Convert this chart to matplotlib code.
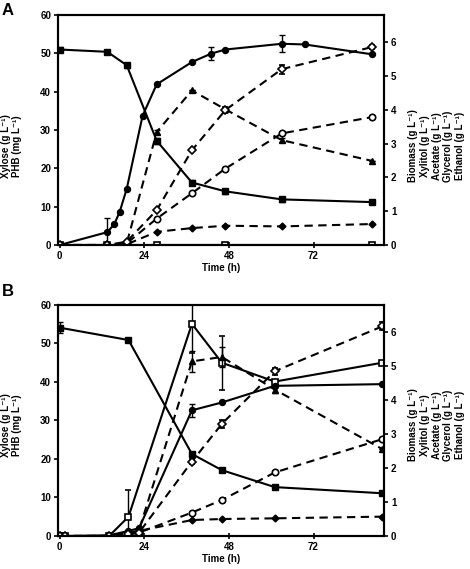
import matplotlib
matplotlib.use('Agg')
import matplotlib.pyplot as plt

plt.rcParams['font.family'] = ['Liberation Sans', 'DejaVu Sans']
plt.rcParams['font.weight'] = 'bold'
plt.rcParams['font.size'] = 7

# Panel A
a_t_xyl = [0, 13.5, 19, 27.5, 37.5, 47, 63, 88.5]
a_xylose = [51.0, 50.4, 46.9, 27.2, 16.3, 14.0, 11.9, 11.2]
a_xylose_err = [0.6, 0.5, 0.6, 0.8, 0.6, 0.7, 0.6, 0.6]
a_t_phb = [0, 13.5, 19, 27.5, 47, 88.5]
a_phb = [0, 0, 0, 0, 0, 0]
a_t_bio = [0, 13.5, 15.5, 17, 19, 23.5, 27.5, 37.5, 43, 47, 63, 69.5, 88.5]
a_biomass = [0, 0.38, 0.62, 0.98, 1.66, 3.82, 4.75, 5.41, 5.66, 5.78, 5.95, 5.93, 5.64]
a_biomass_err = [0, 0.42, 0, 0, 0, 0, 0, 0, 0.2, 0, 0.25, 0, 0]
a_t = [0, 13.5, 19, 27.5, 37.5, 47, 63, 88.5]
a_acetate = [0, 0, 0.05, 3.34, 4.57, 4.01, 3.10, 2.49]
a_acetate_err = [0, 0, 0, 0.05, 0, 0.08, 0.05, 0]
a_xylitol = [0, 0, 0.1, 1.03, 2.80, 3.99, 5.20, 5.85]
a_xylitol_err = [0, 0, 0, 0, 0, 0.08, 0.13, 0.05]
a_glycerol = [0, 0, 0.05, 0.78, 1.53, 2.26, 3.30, 3.78]
a_ethanol = [0, 0, 0.02, 0.39, 0.50, 0.57, 0.55, 0.62]

# Panel B
b_t_xyl = [0, 19.5, 37.5, 46, 61, 91.5]
b_xylose = [54.1, 50.9, 21.3, 17.1, 12.7, 11.1]
b_xylose_err = [1.5, 0.5, 0.6, 0.5, 0.5, 0.5]
b_t_phb = [0, 1.5, 14, 19.5, 37.5, 46, 61, 91.5]
b_phb = [0, 0, 0, 5.0, 55.1, 45.0, 40.1, 45.0]
b_phb_err = [0, 0, 0, 7, 7.5, 7, 0, 0]
b_t = [0, 1.5, 14, 19.5, 22.5, 37.5, 46, 61, 91.5]
b_biomass = [0, 0, 0.02, 0.15, 0.23, 3.70, 3.93, 4.42, 4.47]
b_biomass_err = [0, 0, 0, 0, 0, 0.2, 0, 0, 0]
b_acetate = [0, 0, 0, 0.05, 0.18, 5.14, 5.27, 4.31, 2.56]
b_acetate_err = [0, 0, 0, 0, 0, 0.3, 0.3, 0.1, 0]
b_xylitol = [0, 0, 0, 0.05, 0.1, 2.19, 3.30, 4.85, 6.17]
b_xylitol_err = [0, 0, 0, 0, 0, 0.08, 0.12, 0.1, 0.12]
b_glycerol = [0, 0, 0, 0.05, 0.1, 0.69, 1.06, 1.87, 2.85]
b_ethanol = [0, 0, 0, 0.1, 0.15, 0.47, 0.50, 0.52, 0.57]

left_label = 'Xylose (g L⁻¹)\nPHB (mg L⁻¹)'
right_label = 'Biomass (g L⁻¹)\nXylitol (g L⁻¹)\nAcetate (g L⁻¹)\nGlycerol (g L⁻¹)\nEthanol (g L⁻¹)'

dash = (0, (4, 2.6))
kw = dict(color='black', lw=1.5, ecolor='black', elinewidth=1, capsize=2.5, capthick=1)


def panel(ax, d, label_y):
    ax2 = ax.twinx()
    ax.errorbar(d['t_xyl'], d['xylose'], yerr=d['xylose_err'], marker='s', ms=4.6, mfc='black', mec='black', **kw)
    ax.errorbar(d['t_phb'], d['phb'], yerr=d['phb_err'], marker='s', ms=4.6, mfc='white', mec='black', mew=1.2, **kw)
    ax2.errorbar(d['t_bio'], d['biomass'], yerr=d['biomass_err'], marker='o', ms=4.3, mfc='black', mec='black', **kw)
    ax2.errorbar(d['t'], d['acetate'], yerr=d['acetate_err'], marker='^', ms=5, mfc='black', mec='black', ls=dash, **kw)
    ax2.errorbar(d['t'], d['xylitol'], yerr=d['xylitol_err'], marker='D', ms=4, mfc='white', mec='black', mew=1.2, ls=dash, **kw)
    ax2.plot(d['t'], d['glycerol'], marker='o', ms=4.6, mfc='white', mec='black', mew=1.2, ls=dash, color='black', lw=1.5)
    ax2.plot(d['t'], d['ethanol'], marker='D', ms=3.5, mfc='black', mec='black', ls=dash, color='black', lw=1.5)

    ax.set_xlim(-0.5, 92)
    ax.set_ylim(0, 60)
    ax2.set_ylim(0, 6.8)
    ax.set_xticks([0, 24, 48, 72])
    ax.set_yticks(range(0, 61, 10))
    ax2.set_yticks(range(0, 7))
    ax.tick_params(axis='y', direction='out', length=3, width=1.2, labelsize=7, pad=2)
    ax.tick_params(axis='x', direction='inout', length=4, width=1.2, labelsize=7, pad=2)
    ax2.tick_params(axis='y', direction='out', length=3, width=1.2, labelsize=7, pad=2)
    for s in list(ax.spines.values()) + list(ax2.spines.values()):
        s.set_linewidth(1.5)
    ax.set_xlabel('Time (h)', fontsize=7, fontweight='bold', labelpad=2)
    fig.text(0.024, label_y, left_label, rotation=90, ha='center', va='center',
             fontsize=7, fontweight='bold', linespacing=1.15)
    fig.text(0.929, label_y, right_label, rotation=90, ha='center', va='center',
             fontsize=7, fontweight='bold', linespacing=1.2)


fig = plt.figure(figsize=(4.7, 5.69), dpi=100)
axA = fig.add_axes([0.1234, 0.5694, 0.6936, 0.4042])
axB = fig.add_axes([0.1234, 0.058, 0.6936, 0.406])

dA = dict(t_xyl=a_t_xyl, xylose=a_xylose, xylose_err=a_xylose_err, t_phb=a_t_phb, phb=a_phb,
          phb_err=[0] * len(a_phb), t_bio=a_t_bio, biomass=a_biomass, biomass_err=a_biomass_err,
          t=a_t, acetate=a_acetate, acetate_err=a_acetate_err, xylitol=a_xylitol,
          xylitol_err=a_xylitol_err, glycerol=a_glycerol, ethanol=a_ethanol)
dB = dict(t_xyl=b_t_xyl, xylose=b_xylose, xylose_err=b_xylose_err, t_phb=b_t_phb, phb=b_phb,
          phb_err=b_phb_err, t_bio=b_t, biomass=b_biomass, biomass_err=b_biomass_err,
          t=b_t, acetate=b_acetate, acetate_err=b_acetate_err, xylitol=b_xylitol,
          xylitol_err=b_xylitol_err, glycerol=b_glycerol, ethanol=b_ethanol)

panel(axA, dA, 1 - 146 / 569)
panel(axB, dB, 1 - 425 / 569)

fig.text(0.004, 0.995, 'A', fontsize=12, fontweight='bold', va='top', ha='left')
fig.text(0.004, 0.5, 'B', fontsize=12, fontweight='bold', va='top', ha='left')

fig.savefig('out.png', dpi=100)
